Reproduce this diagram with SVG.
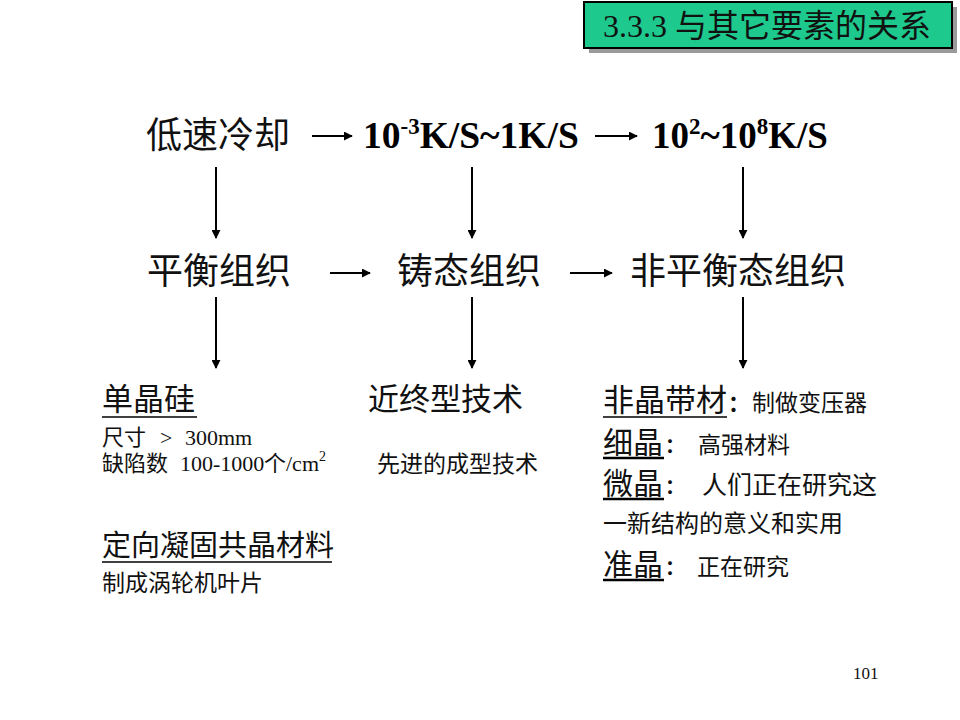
<svg xmlns="http://www.w3.org/2000/svg" width="960" height="720" viewBox="0 0 960 720">
<defs>
<style>
.cjk{font-family:"Noto Sans CJK SC",sans-serif;fill:#111}
.mix{font-family:"Liberation Serif","Noto Sans CJK SC",serif;fill:#111}
.bold{font-family:"Liberation Serif",serif;font-weight:bold;fill:#000}
.conn{stroke:#000;stroke-width:2;fill:none;marker-end:url(#ah)}
.ul{stroke:#000;stroke-width:1.6}
.ulb{stroke:#000;stroke-width:2.6}
</style>
<marker id="ah" viewBox="0 0 10 10" refX="9" refY="5" markerWidth="4.5" markerHeight="4.5" orient="auto" markerUnits="strokeWidth">
<path d="M0,0 L10,5 L0,10 Z" fill="#000"/>
</marker>
</defs>
<rect width="960" height="720" fill="#fff"/>

<g id="title">
<rect x="589" y="7" width="368" height="46" fill="#9a9a9a"/>
<rect x="584" y="2" width="368" height="46" fill="#1ec98d" stroke="#000" stroke-width="2"/>
<text x="603" y="37" class="mix" font-size="32" fill="#000">3.3.3 与其它要素的关系</text>
</g>

<g id="n-lowcool"><text x="146" y="148" class="cjk" font-size="36">低速冷却</text></g>
<g id="n-rate1"><text x="363" y="148" class="bold" font-size="37.5">10<tspan dy="-14" font-size="23">-3</tspan><tspan dy="14">K/S~1K/S</tspan></text></g>
<g id="n-rate2"><text x="652" y="148" class="bold" font-size="37">10<tspan dy="-14" font-size="23">2</tspan><tspan dy="14">~10</tspan><tspan dy="-14" font-size="23">8</tspan><tspan dy="14">K/S</tspan></text></g>

<g id="n-eq"><text x="147" y="284" class="cjk" font-size="36">平衡组织</text></g>
<g id="n-cast"><text x="397" y="284" class="cjk" font-size="36">铸态组织</text></g>
<g id="n-noneq"><text x="630" y="284" class="cjk" font-size="36">非平衡态组织</text></g>

<g id="n-left">
<text x="102" y="410" class="cjk" font-size="31">单晶硅</text>
<line x1="102" y1="417" x2="197" y2="417" class="ul"/>
<text y="445" class="mix" font-size="22"><tspan x="102">尺寸</tspan><tspan x="160">&gt;</tspan><tspan x="185">300mm</tspan></text>
<text y="471" class="mix" font-size="22"><tspan x="102">缺陷数</tspan><tspan x="180">100-1000</tspan><tspan x="264">个/cm</tspan><tspan dy="-10" font-size="14">2</tspan></text>
<text x="102" y="556" class="cjk" font-size="29">定向凝固共晶材料</text>
<line x1="102" y1="562" x2="332" y2="562" class="ul"/>
<text x="102" y="591" class="cjk" font-size="23">制成涡轮机叶片</text>
</g>

<g id="n-mid">
<text x="368" y="410" class="cjk" font-size="31">近终型技术</text>
<text x="377" y="472" class="cjk" font-size="23">先进的成型技术</text>
</g>

<g id="n-right">
<text x="603" y="411" class="cjk" font-size="31">非晶带材</text>
<line x1="603" y1="417" x2="727" y2="417" class="ul"/>
<text x="728" y="411" class="cjk" font-size="22" font-weight="bold">：</text>
<text x="752" y="411" class="cjk" font-size="23">制做变压器</text>

<text x="603" y="453" class="cjk" font-size="30">细晶</text>
<line x1="603" y1="458" x2="664" y2="458" class="ulb"/>
<text x="665" y="453" class="cjk" font-size="20" font-weight="bold">：</text>
<text x="698" y="453" class="cjk" font-size="23">高强材料</text>

<text x="603" y="494" class="cjk" font-size="30">微晶</text>
<line x1="603" y1="499" x2="664" y2="499" class="ulb"/>
<text x="665" y="494" class="cjk" font-size="20" font-weight="bold">：</text>
<text x="702" y="494" class="cjk" font-size="25">人们正在研究这</text>
<text x="603" y="532" class="cjk" font-size="24">一新结构的意义和实用</text>

<text x="603" y="575" class="cjk" font-size="30">准晶</text>
<line x1="603" y1="580" x2="664" y2="580" class="ulb"/>
<text x="665" y="575" class="cjk" font-size="20" font-weight="bold">：</text>
<text x="697" y="575" class="cjk" font-size="23">正在研究</text>
</g>

<g id="page"><text x="853" y="679" class="mix" font-size="17">101</text></g>

<g id="connectors">
<line x1="312" y1="136" x2="352" y2="136" class="conn"/>
<line x1="595" y1="136" x2="637" y2="136" class="conn"/>
<line x1="330" y1="273" x2="370" y2="273" class="conn"/>
<line x1="570" y1="273" x2="612" y2="273" class="conn"/>
<line x1="216" y1="167" x2="216" y2="238" class="conn"/>
<line x1="472" y1="167" x2="472" y2="238" class="conn"/>
<line x1="743" y1="167" x2="743" y2="238" class="conn"/>
<line x1="216" y1="297" x2="216" y2="368" class="conn"/>
<line x1="472" y1="297" x2="472" y2="368" class="conn"/>
<line x1="743" y1="297" x2="743" y2="368" class="conn"/>
</g>
</svg>
